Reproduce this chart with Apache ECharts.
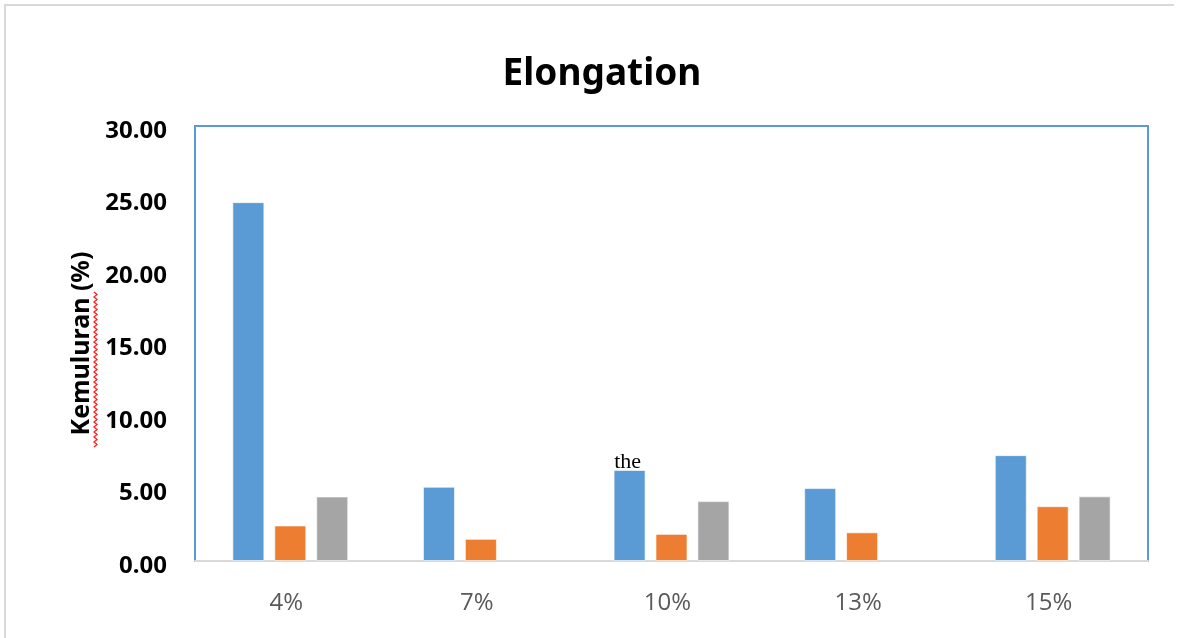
<!DOCTYPE html>
<html>
<head>
<meta charset="utf-8">
<script src="https://cdn.jsdelivr.net/npm/echarts@6/dist/echarts.min.js"></script>
<style>
html,body{margin:0;padding:0;background:#fff;}
#c{width:1181px;height:638px;}
</style>
</head>
<body>
<div id="c"></div>
<script>
const categories = ['4%', '7%', '10%', '13%', '15%'];
const series1 = [24.75, 5.12, 6.28, 5.03, 7.30];
const series2 = [2.45, 1.53, 1.87, 1.98, 3.78];
const series3 = [4.45, null, 4.13, null, 4.46];
const yTicks = { min: 0, max: 30, interval: 5 };
const strayLabel = { series: 0, index: 2, text: 'the' };

const chart = echarts.init(document.getElementById('c'), null, { renderer: 'canvas' });

function withStray(arr, sIdx) {
  return arr.map((v, i) => {
    if (sIdx === strayLabel.series && i === strayLabel.index) {
      return {
        value: v,
        label: {
          show: true, position: 'top', distance: 0, offset: [-2, 3],
          formatter: strayLabel.text,
          fontFamily: 'Liberation Serif', fontSize: 22, color: '#000'
        }
      };
    }
    return v;
  });
}

// spell-check squiggle under the axis name (decoration)
function squiggle(x, y0, y1) {
  const pts = [];
  let k = 0;
  for (let y = y0; y <= y1; y += 2.5) { pts.push([x + (k % 2 ? 2 : -1), y]); k++; }
  return pts;
}

const barStyle = (c) => ({ color: c, borderColor: 'rgba(255,255,255,0.6)', borderWidth: 1 });

chart.setOption({
  backgroundColor: '#fff',
  animation: false,
  title: {
    text: 'Elongation', left: 597, textAlign: 'center', top: 51,
    textStyle: { fontFamily: 'Noto Sans', fontWeight: 'bold', fontSize: 37, color: '#000' }
  },
  graphic: [
    { type: 'rect', shape: { x: 4, y: 4, width: 1170, height: 2 }, style: { fill: '#d9d9d9' }, silent: true },
    { type: 'rect', shape: { x: 4, y: 4, width: 2, height: 640 }, style: { fill: '#d9d9d9' }, silent: true },
    { type: 'polyline', shape: { points: squiggle(95, 292, 447) }, style: { stroke: '#ff2020', lineWidth: 1.3, fill: null }, silent: true }
  ],
  grid: {
    left: 195, right: 33, top: 126, bottom: 77,
    show: true, borderColor: '#5b9bd5', borderWidth: 2, backgroundColor: '#fff'
  },
  xAxis: {
    type: 'category', data: categories,
    axisLine: { show: true, lineStyle: { color: '#d9d9d9', width: 2 } },
    axisTick: { show: false },
    axisLabel: { color: '#595959', fontFamily: 'Open Sans', fontSize: 24, margin: 30, padding: [0, 8, 0, 0] }
  },
  yAxis: {
    type: 'value', min: yTicks.min, max: yTicks.max, interval: yTicks.interval,
    name: 'Kemuluran (%)', nameLocation: 'middle', nameGap: 99, nameRotate: 90,
    nameTextStyle: { fontFamily: 'Noto Sans', fontWeight: 'bold', fontSize: 25, color: '#000' },
    axisLine: { show: false }, axisTick: { show: false },
    splitLine: { show: false },
    axisLabel: {
      margin: 28,
      formatter: (v) => '{a|' + v.toFixed(2) + '}',
      rich: {
        a: { color: '#000', fontFamily: 'Noto Sans', fontWeight: 'bold', fontSize: 24, padding: [10, 0, 0, 0] }
      }
    }
  },
  series: [
    { name: 'Series1', type: 'bar', data: withStray(series1, 0), barWidth: 32, barGap: '31%', itemStyle: barStyle('#5b9bd5') },
    { name: 'Series2', type: 'bar', data: series2, barWidth: 32, barGap: '31%', itemStyle: barStyle('#ed7d31') },
    { name: 'Series3', type: 'bar', data: series3, barWidth: 32, barGap: '31%', itemStyle: barStyle('#a5a5a5') }
  ]
});
</script>
</body>
</html>
